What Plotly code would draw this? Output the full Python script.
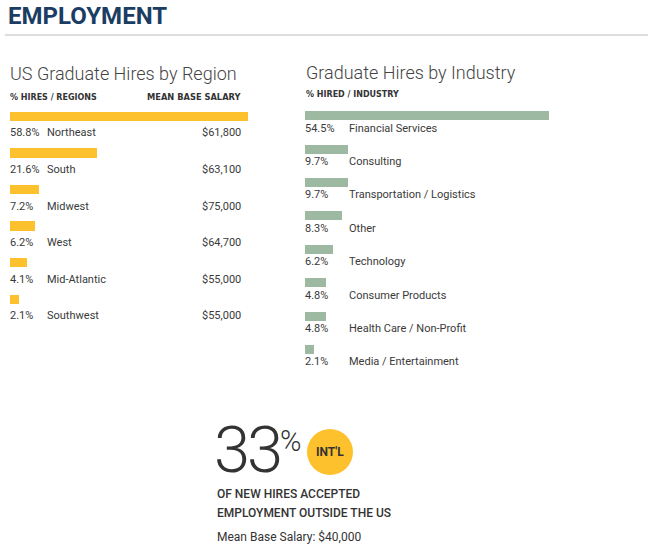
import plotly.graph_objects as go

# ---- data ----
regions = ["Northeast", "South", "Midwest", "West", "Mid-Atlantic", "Southwest"]
region_pct = [58.8, 21.6, 7.2, 6.2, 4.1, 2.1]
region_salary = ["$61,800", "$63,100", "$75,000", "$64,700", "$55,000", "$55,000"]

industries = ["Financial Services", "Consulting", "Transportation / Logistics", "Other",
              "Technology", "Consumer Products", "Health Care / Non-Profit",
              "Media / Entertainment"]
industry_pct = [54.5, 9.7, 9.7, 8.3, 6.2, 4.8, 4.8, 2.1]

intl_pct = "33"
intl_salary = "Mean Base Salary: $40,000"

W, H = 653, 551
YELLOW = "#FDC12E"
GREEN = "#9DB9A1"
TXT = "#3a3a3a"
NAVY = "#1b3d63"
FONT = "Roboto"
HEAD_FONT = "DejaVu Sans"


def px(x):
    return x / W


def py(y):
    return 1 - y / H


fig = go.Figure()

fig.add_trace(go.Bar(
    x=region_pct, y=list(range(len(regions))), orientation="h",
    marker=dict(color=YELLOW, line=dict(width=0)), width=0.26,
    xaxis="x", yaxis="y", hoverinfo="skip", showlegend=False))

fig.add_trace(go.Bar(
    x=industry_pct, y=list(range(len(industries))), orientation="h",
    marker=dict(color=GREEN, line=dict(width=0)), width=0.27,
    xaxis="x2", yaxis="y2", hoverinfo="skip", showlegend=False))

ann = []
lab_font = dict(family=FONT, size=11, color=TXT)

# left labels
for i, (r, p, s) in enumerate(zip(regions, region_pct, region_salary)):
    yy = i + 0.45
    ann.append(dict(xref="x", yref="y", x=0, y=yy, text=f"{p}%", xanchor="left",
                    yanchor="middle", showarrow=False, font=lab_font, xshift=-2))
    ann.append(dict(xref="paper", yref="y", x=px(45), y=yy, text=r, xanchor="left",
                    yanchor="middle", showarrow=False, font=lab_font))
    ann.append(dict(xref="paper", yref="y", x=px(243), y=yy, text=s, xanchor="right",
                    yanchor="middle", showarrow=False, font=lab_font))

# right labels
for i, (n, p) in enumerate(zip(industries, industry_pct)):
    yy = i + 0.36
    ann.append(dict(xref="x2", yref="y2", x=0, y=yy, text=f"{p}%", xanchor="left",
                    yanchor="middle", showarrow=False, font=lab_font, xshift=-2))
    ann.append(dict(xref="paper", yref="y2", x=px(347), y=yy, text=n, xanchor="left",
                    yanchor="middle", showarrow=False, font=lab_font))

head_font = dict(family=HEAD_FONT, size=8, color="#333333")

# headings
ann += [
    dict(xref="paper", yref="paper", x=px(6), y=py(16), text="<b>EMPLOYMENT</b>",
         xanchor="left", yanchor="middle", showarrow=False,
         font=dict(family=FONT, size=24, color=NAVY)),
    dict(xref="paper", yref="paper", x=px(8), y=py(73), text="US Graduate Hires by Region",
         xanchor="left", yanchor="middle", showarrow=False,
         font=dict(family=FONT, size=18, color="#444444", weight=300)),
    dict(xref="paper", yref="paper", x=px(304), y=py(72), text="Graduate Hires by Industry",
         xanchor="left", yanchor="middle", showarrow=False,
         font=dict(family=FONT, size=18, color="#444444", weight=300)),
    dict(xref="paper", yref="paper", x=px(8), y=py(97), text="<b>% HIRES / REGIONS</b>",
         xanchor="left", yanchor="middle", showarrow=False, font=head_font),
    dict(xref="paper", yref="paper", x=px(243), y=py(97), text="<b>MEAN BASE SALARY</b>",
         xanchor="right", yanchor="middle", showarrow=False,
         font=dict(family=HEAD_FONT, size=8.3, color="#333333")),
    dict(xref="paper", yref="paper", x=px(304), y=py(94), text="<b>% HIRED / INDUSTRY</b>",
         xanchor="left", yanchor="middle", showarrow=False, font=head_font),
    # international block
    dict(xref="paper", yref="paper", x=px(212), y=py(450),
         text="<span style='letter-spacing:-3px'>" + intl_pct + "</span>"
              "<span style='font-size:29px;baseline-shift:21px'>%</span>",
         xanchor="left", yanchor="middle", showarrow=False,
         font=dict(family=FONT, size=65, color="#333333", weight=300)),
    dict(xref="paper", yref="paper", x=px(330), y=py(452), text="<b>INT'L</b>",
         xanchor="center", yanchor="middle", showarrow=False,
         font=dict(family=FONT, size=12, color="#333333")),
    dict(xref="paper", yref="paper", x=px(215), y=py(494), text="OF NEW HIRES ACCEPTED",
         xanchor="left", yanchor="middle", showarrow=False,
         font=dict(family=FONT, size=12, color="#333333", weight=500)),
    dict(xref="paper", yref="paper", x=px(215), y=py(513), text="EMPLOYMENT OUTSIDE THE US",
         xanchor="left", yanchor="middle", showarrow=False,
         font=dict(family=FONT, size=12, color="#333333", weight=500)),
    dict(xref="paper", yref="paper", x=px(215), y=py(537), text=intl_salary,
         xanchor="left", yanchor="middle", showarrow=False,
         font=dict(family=FONT, size=12, color="#333333")),
]

shapes = [
    dict(type="line", xref="paper", yref="paper", x0=px(5), x1=px(648), y0=py(35), y1=py(35),
         line=dict(color="#dddddd", width=2)),
    dict(type="circle", xref="paper", yref="paper", x0=px(307), x1=px(353),
         y0=py(475), y1=py(429), fillcolor=YELLOW, line=dict(width=0)),
]

nL, nR = len(regions), len(industries)
ax_off = dict(visible=False, showgrid=False, zeroline=False, fixedrange=True)

fig.update_layout(
    width=W, height=H, margin=dict(l=0, r=0, t=0, b=0),
    paper_bgcolor="white", plot_bgcolor="white",
    xaxis=dict(domain=[px(10), px(248)], range=[0, max(region_pct)], **ax_off),
    yaxis=dict(domain=[py(98.2 + 6.4 * 36.6), py(98.2)], range=[nL - 0.1, -0.5],
               anchor="x", **ax_off),
    xaxis2=dict(domain=[px(305), px(549)], range=[0, max(industry_pct)], anchor="y2", **ax_off),
    yaxis2=dict(domain=[py(99.3 + 8.4 * 33.4), py(99.3)], range=[nR - 0.1, -0.5],
                anchor="x2", **ax_off),
    annotations=ann, shapes=shapes, bargap=0,
)

fig.write_html("out.html", config={"displayModeBar": False},
               post_script="document.body.style.margin='0px';document.body.style.overflow='hidden';")
